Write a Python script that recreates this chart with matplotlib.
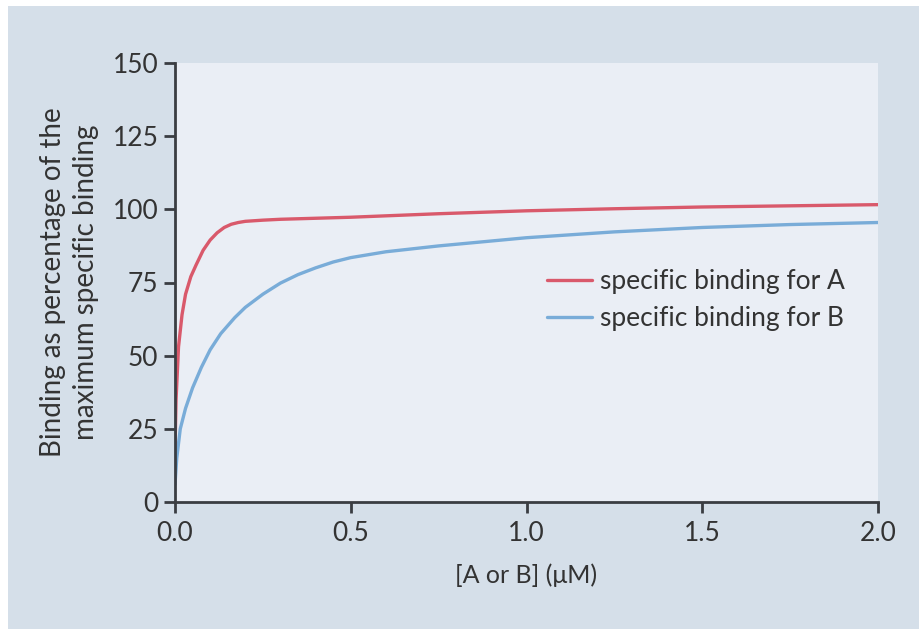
import matplotlib
matplotlib.use("Agg")
import matplotlib.pyplot as plt
from matplotlib.patches import Rectangle

plt.rcParams['font.family'] = ['Lato', 'DejaVu Sans']

# Data
conc_a = [0, 0.003, 0.01, 0.02, 0.03, 0.045, 0.06, 0.08, 0.1, 0.12, 0.14, 0.16,
          0.18, 0.2, 0.25, 0.3, 0.5, 0.75, 1.0, 1.25, 1.5, 1.75, 2.0]
binding_a = [18, 35, 53, 64, 71, 77, 81, 86, 89.5, 92, 93.8, 94.9,
             95.5, 95.9, 96.3, 96.6, 97.3, 98.5, 99.5, 100.2, 100.8, 101.2, 101.6]

conc_b = [0, 0.005, 0.015, 0.03, 0.05, 0.075, 0.1, 0.13, 0.17, 0.2, 0.25, 0.3,
          0.35, 0.4, 0.45, 0.5, 0.6, 0.75, 1.0, 1.25, 1.5, 1.75, 2.0]
binding_b = [6, 15, 25, 32, 39, 46, 52, 57.5, 63, 66.5, 71, 74.8,
             77.7, 80, 82, 83.5, 85.5, 87.5, 90.3, 92.3, 93.8, 94.8, 95.5]

labels = ["specific binding for A", "specific binding for B"]
x_ticks = [0.0, 0.5, 1.0, 1.5, 2.0]
x_ticklabels = ["0.0", "0.5", "1.0", "1.5", "2.0"]
y_ticks = [0, 25, 50, 75, 100, 125, 150]

W, H = 919, 629
fig = plt.figure(figsize=(W / 100, H / 100), dpi=100)
fig.patch.set_facecolor("white")
# outer blue-grey panel
fig.patches.append(Rectangle((8 / W, 0), 1 - 8 / W, 1 - 6 / H, transform=fig.transFigure,
                             facecolor="#d5dfe9", edgecolor="none", zorder=-10))

ax = fig.add_axes([175 / W, 1 - 502 / H, 703 / W, 439 / H])
ax.set_facecolor("#eaeef5")

ax.plot(conc_a, binding_a, color="#d9596b", lw=2.4, label=labels[0], solid_capstyle="round")
ax.plot(conc_b, binding_b, color="#79acd8", lw=2.4, label=labels[1], solid_capstyle="round")

ax.set_xlim(0, 2.0)
ax.set_ylim(0, 150)
ax.set_xticks(x_ticks)
ax.set_xticklabels(x_ticklabels)
ax.set_yticks(y_ticks)

for s in ["top", "right"]:
    ax.spines[s].set_visible(False)
for s in ["left", "bottom"]:
    ax.spines[s].set_color("#3a3d42")
    ax.spines[s].set_linewidth(2.0)

ax.tick_params(axis="both", direction="out", length=8, width=2, color="#3a3d42",
               labelsize=19, labelcolor="#333333", pad=4)
ax.tick_params(axis="x", pad=6)

ax.set_xlabel("[A or B] (μM)", fontsize=18, color="#333333", labelpad=12)
ax.set_ylabel("Binding as percentage of the\nmaximum specific binding", fontsize=20,
              color="#333333", labelpad=10, linespacing=1.3)

leg = ax.legend(loc="upper left", bbox_to_anchor=(0.496, 0.585), frameon=False,
                fontsize=19, handlelength=1.7, handletextpad=0.3, labelspacing=0.45,
                labelcolor="#333333")

fig.savefig("out.png", dpi=100, facecolor=fig.get_facecolor())
